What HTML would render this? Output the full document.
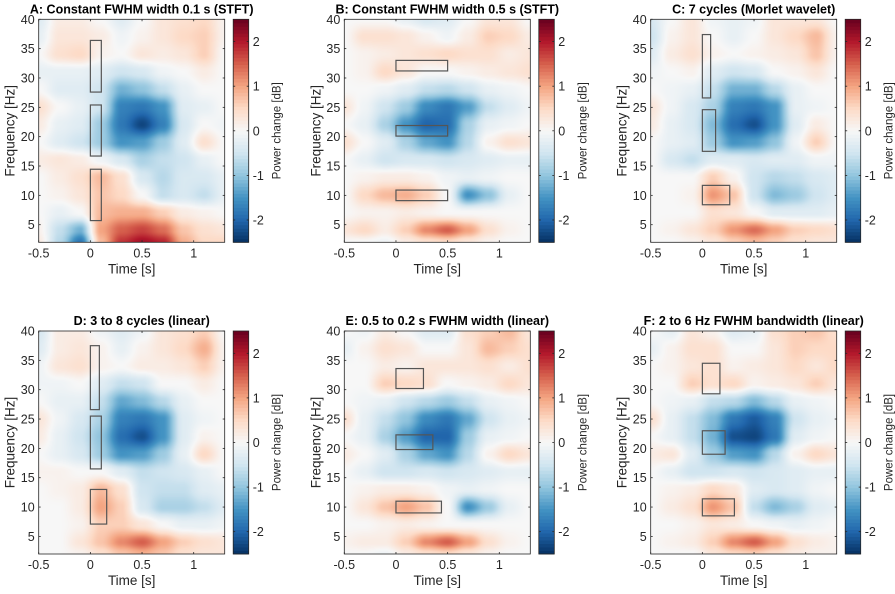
<!DOCTYPE html>
<html><head><meta charset="utf-8">
<style>
html,body{margin:0;padding:0;background:#fff;}
#wrap{position:relative;width:895px;height:594px;overflow:hidden;font-family:"Liberation Sans",sans-serif;}
canvas{position:absolute;}
svg{position:absolute;left:0;top:0;}
</style></head>
<body>
<div id="wrap">
<svg id="svg" width="895" height="594"></svg>
</div>
<script>
// ---- data ----
const times = [-0.5,-0.3,-0.1,0.1,0.3,0.5,0.7,0.9,1.1,1.3];
const freqs = [40,37,34,31,28,25,22,19,16,13,10,7,4,2];
const xTicks = [-0.5,0,0.5,1];
const xTickLabels = ["-0.5","0","0.5","1"];
const yTicks = [5,10,15,20,25,30,35,40];
const cbTicks = [-2,-1,0,1,2];
const titles = ["A: Constant FWHM width 0.1 s (STFT)","B: Constant FWHM width 0.5 s (STFT)","C: 7 cycles (Morlet wavelet)","D: 3 to 8 cycles (linear)","E: 0.5 to 0.2 s FWHM width (linear)","F: 2 to 6 Hz FWHM bandwidth (linear)"];
const powerA = [
[-0.3,0.2,0.2,0.0,-0.3,0.0,0.3,0.4,0.5,0.1],
[-0.2,0.3,0.3,0.2,-0.1,0.1,0.3,0.5,0.6,0.1],
[0.0,0.4,0.5,0.1,0.0,0.3,0.2,0.3,0.6,0.0],
[-0.2,-0.2,-0.2,-0.3,-0.5,-0.4,-0.1,0.0,0.2,0.0],
[0.0,-0.3,-0.3,-0.5,-1.2,-1.0,-0.6,-0.2,0.0,0.0],
[0.4,0.0,-0.2,-0.5,-1.7,-1.8,-1.5,-0.3,-0.2,0.0],
[0.2,-0.2,-0.3,-0.9,-1.8,-2.3,-1.7,-0.4,0.0,-0.1],
[0.0,-0.3,-0.5,-0.9,-1.5,-1.4,-0.9,-0.3,0.4,0.0],
[0.2,0.3,0.2,-0.1,-0.4,-0.8,-0.6,-0.5,-0.2,0.0],
[0.0,0.2,0.4,0.8,0.4,-0.4,-0.7,-0.4,-0.4,-0.2],
[0.0,0.1,0.3,0.7,0.5,0.0,-0.6,-0.4,-0.6,-0.2],
[0.0,-0.2,0.0,0.8,0.9,0.9,0.6,0.2,0.1,0.0],
[0.1,-0.6,-1.2,1.0,1.5,1.7,1.4,0.7,0.4,0.3],
[0.2,-0.7,-1.8,0.8,1.8,2.1,1.9,0.9,0.5,0.5]];
const powerB = [
[0.0,0.0,0.0,-0.2,-0.4,-0.3,0.0,0.3,0.3,0.0],
[0.0,0.4,0.4,0.3,0.1,-0.1,0.2,0.6,0.5,0.2],
[0.0,0.1,0.2,0.3,0.4,0.5,0.4,0.4,0.2,0.3],
[0.0,0.1,0.5,0.3,0.0,0.0,0.1,0.2,0.3,0.4],
[0.0,0.0,-0.1,-0.3,-0.6,-0.7,-0.5,-0.2,-0.1,0.0],
[0.3,-0.1,-0.5,-0.9,-1.6,-1.8,-1.4,-0.6,-0.3,-0.1],
[0.0,-0.2,-0.8,-1.5,-2.0,-1.9,-0.8,-0.2,-0.1,0.0],
[0.4,0.0,-0.3,-0.8,-1.3,-1.5,-0.7,0.1,0.4,0.3],
[0.0,-0.2,-0.5,-0.4,-0.4,-0.5,-0.4,-0.3,-0.2,-0.2],
[0.0,0.1,0.2,0.2,0.1,-0.1,-0.2,-0.1,0.0,0.0],
[0.0,0.5,0.8,0.9,0.6,0.0,-1.5,-1.0,-0.2,0.0],
[0.0,0.1,0.1,0.2,0.1,0.0,0.0,0.0,0.0,0.0],
[0.3,0.5,0.2,0.6,1.2,1.5,1.0,0.4,0.1,0.0],
[0.0,0.0,-0.1,0.2,0.4,0.5,0.3,0.1,0.0,0.0]];
const powerC = [
[-0.4,0.0,0.3,-0.1,-0.2,-0.1,0.3,0.3,0.3,0.0],
[-0.5,0.1,0.3,0.0,-0.2,0.0,0.3,0.5,0.8,0.1],
[-0.3,0.2,0.4,0.1,0.0,0.1,0.2,0.3,0.7,0.1],
[-0.1,0.0,0.1,-0.3,-0.5,-0.4,0.0,0.1,0.3,0.0],
[0.0,-0.1,-0.2,-0.6,-1.2,-1.2,-0.7,-0.2,0.0,0.0],
[0.3,-0.1,-0.4,-0.8,-1.7,-1.8,-1.5,-0.2,-0.1,0.0],
[0.2,-0.2,-0.4,-1.1,-1.9,-2.2,-1.5,-0.3,0.2,0.0],
[0.0,-0.2,-0.3,-0.9,-1.5,-1.4,-1.0,-0.1,0.6,0.0],
[0.0,-0.4,-0.6,-0.3,-0.3,-0.4,-0.3,-0.3,-0.1,-0.1],
[0.0,0.0,0.0,0.6,0.1,-0.5,-0.7,-0.6,-0.4,-0.3],
[0.0,0.0,0.1,1.1,0.7,-0.5,-1.1,-0.9,-0.5,-0.3],
[0.0,0.0,0.0,0.4,0.3,0.0,-0.3,-0.3,-0.3,-0.2],
[0.0,0.1,0.3,0.6,1.1,1.4,1.0,0.6,0.5,0.4],
[0.0,0.0,0.1,0.3,0.6,0.8,0.6,0.4,0.3,0.3]];
const powerD = [
[-0.4,0.2,0.2,-0.1,-0.3,-0.1,0.3,0.4,0.6,0.0],
[-0.3,0.2,0.3,0.1,-0.2,0.1,0.3,0.5,0.9,0.1],
[-0.1,0.3,0.4,0.1,0.0,0.2,0.2,0.3,0.6,0.1],
[-0.1,-0.1,0.0,-0.3,-0.6,-0.5,0.0,0.0,0.2,0.0],
[0.0,-0.2,-0.2,-0.6,-1.3,-1.1,-0.7,-0.2,0.0,0.0],
[0.3,-0.1,-0.4,-0.8,-1.7,-1.8,-1.5,-0.3,-0.1,0.0],
[0.2,-0.2,-0.5,-1.0,-1.9,-2.2,-1.5,-0.3,0.1,0.0],
[0.0,-0.2,-0.4,-0.9,-1.5,-1.4,-0.9,-0.2,0.5,0.0],
[0.1,0.1,0.0,0.0,-0.3,-0.6,-0.5,-0.4,-0.2,0.0],
[0.0,0.1,0.2,0.8,0.4,-0.5,-0.6,-0.6,-0.3,-0.2],
[0.0,0.0,0.2,1.0,0.6,-0.4,-0.8,-0.8,-0.6,-0.3],
[0.0,0.0,0.1,0.6,0.6,0.3,0.0,-0.2,-0.2,-0.1],
[0.0,0.0,0.3,0.7,1.2,1.5,1.0,0.6,0.4,0.3],
[0.0,0.0,0.1,0.4,0.7,0.9,0.7,0.4,0.3,0.3]];
const powerE = [
[0.0,-0.1,0.2,0.0,-0.3,-0.3,0.4,0.6,0.8,0.3],
[-0.2,0.1,0.4,0.3,0.0,0.0,0.3,0.8,0.6,0.4],
[0.0,0.0,0.2,0.1,0.3,0.3,0.3,0.4,0.2,0.4],
[0.0,0.0,0.6,0.5,0.4,0.0,0.1,0.2,0.5,0.3],
[0.0,-0.1,-0.2,-0.5,-0.7,-0.9,-0.6,-0.2,-0.1,0.0],
[0.4,-0.2,-0.6,-1.0,-1.6,-1.8,-1.3,-0.5,-0.2,-0.1],
[0.0,-0.2,-0.8,-1.4,-2.0,-2.0,-0.9,-0.2,-0.1,0.0],
[0.2,0.0,-0.3,-0.8,-1.3,-1.5,-0.7,0.1,0.5,0.3],
[0.0,-0.2,-0.5,-0.5,-0.4,-0.5,-0.4,-0.3,-0.2,-0.2],
[0.0,0.1,0.2,0.2,0.1,-0.1,-0.2,-0.1,0.0,0.0],
[0.0,0.3,0.7,1.0,0.7,0.0,-1.5,-0.9,-0.2,0.0],
[0.0,0.0,0.1,0.2,0.1,0.0,0.0,0.0,0.0,0.0],
[0.1,0.2,0.2,0.6,1.2,1.5,1.0,0.4,0.1,0.0],
[0.0,0.0,-0.1,0.2,0.4,0.5,0.3,0.1,0.0,0.0]];
const powerF = [
[0.0,-0.2,0.3,0.1,-0.3,-0.2,0.4,0.6,0.7,0.4],
[-0.2,0.1,0.4,0.4,0.0,0.0,0.3,0.6,0.5,0.5],
[0.0,0.1,0.3,0.4,0.1,0.2,0.3,0.5,0.3,0.5],
[0.0,0.0,0.6,0.4,0.5,0.1,0.2,0.3,0.6,0.3],
[0.0,-0.1,-0.2,-0.6,-0.7,-1.1,-0.7,-0.2,-0.1,0.0],
[0.4,-0.2,-0.6,-1.1,-1.8,-2.1,-1.7,-0.5,-0.2,-0.1],
[0.0,-0.2,-0.6,-1.2,-2.2,-2.3,-1.8,-0.3,-0.1,0.0],
[0.2,0.3,-0.3,-0.9,-1.4,-1.5,-0.7,0.1,0.5,0.3],
[0.0,-0.2,-0.5,-0.5,-0.4,-0.5,-0.4,-0.3,-0.2,-0.2],
[0.0,0.1,0.2,0.5,0.3,-0.3,-0.4,-0.3,-0.1,0.0],
[0.0,0.2,0.4,1.1,0.7,-0.6,-1.1,-0.8,-0.3,-0.2],
[0.0,0.0,0.1,0.3,0.2,0.0,-0.1,-0.2,-0.1,0.0],
[0.0,0.1,0.2,0.6,1.2,1.5,1.0,0.4,0.2,0.1],
[0.0,0.0,0.0,0.3,0.5,0.6,0.4,0.2,0.1,0.1]];
const boxesA = [[0,0.106,27.6,36.4],[0,0.106,16.7,25.4],[0,0.106,5.7,14.45]];
const boxesB = [[0,0.5,31.2,33],[0,0.5,20.1,21.9],[0,0.5,9.1,10.9]];
const boxesC = [[0,0.08,26.6,37.4],[0,0.128,17.5,24.6],[0,0.265,8.4,11.7]];
const boxesD = [[0,0.087,26.6,37.5],[0,0.106,16.5,25.5],[0,0.158,7.1,13]];
const boxesE = [[0,0.266,30.2,33.6],[0,0.357,19.8,22.3],[0,0.44,9,11]];
const boxesF = [[0,0.17,29.3,34.5],[0,0.22,19,23],[0,0.31,8.5,11.4]];

const panelsPower=[powerA,powerB,powerC,powerD,powerE,powerF];
const panelsBoxes=[boxesA,boxesB,boxesC,boxesD,boxesE,boxesF];
const cmapHex=["#053061","#2166ac","#4393c3","#92c5de","#d1e5f0","#f7f7f7","#fddbc7","#f4a582","#d6604d","#b2182b","#67001f"];
const cmap=cmapHex.map(h=>[parseInt(h.slice(1,3),16),parseInt(h.slice(3,5),16),parseInt(h.slice(5,7),16)]);
const CMIN=-2.5,CMAX=2.5,TMIN=-0.5,TMAX=1.3,FMIN=2,FMAX=40;
function color(v){let u=(v-CMIN)/(CMAX-CMIN);u=Math.max(0,Math.min(1,u))*(cmap.length-1);const i=Math.min(cmap.length-2,Math.floor(u)),w=u-i;return cmap[i].map((c,k)=>Math.round(c+(cmap[i+1][k]-c)*w));}
function sm(w){return w*w*(3-2*w);}
function sample(grid,t,f){
  let i=0;while(i<times.length-2&&t>times[i+1])i++;
  let wt=(t-times[i])/(times[i+1]-times[i]);wt=sm(Math.max(0,Math.min(1,wt)));
  let j=0;while(j<freqs.length-2&&f<freqs[j+1])j++;
  let wf=(freqs[j]-f)/(freqs[j]-freqs[j+1]);wf=sm(Math.max(0,Math.min(1,wf)));
  const a=grid[j][i]*(1-wt)+grid[j][i+1]*wt,b=grid[j+1][i]*(1-wt)+grid[j+1][i+1]*wt;
  return a*(1-wf)+b*wf;
}
const NS="http://www.w3.org/2000/svg";
const svg=document.getElementById('svg');
const wrap=document.getElementById('wrap');
function el(tag,attrs,parent,text){const e=document.createElementNS(NS,tag);for(const k in attrs)e.setAttribute(k,attrs[k]);if(text!==undefined)e.textContent=text;(parent||svg).appendChild(e);return e;}
const colLeft=[38.7,344.3,650.7],rowTop=[19.3,331],PW=186,PH=223;
panelsPower.forEach((grid,p)=>{
  const L=colLeft[p%3],T=rowTop[Math.floor(p/3)];
  const xs=t=>L+(t-TMIN)/(TMAX-TMIN)*PW, ys=f=>T+(FMAX-f)/(FMAX-FMIN)*PH;
  const cv=document.createElement('canvas');cv.width=PW;cv.height=PH;
  cv.style.left=L+'px';cv.style.top=T+'px';
  
  
  wrap.insertBefore(cv,svg);
  const ctx=cv.getContext('2d'),img=ctx.createImageData(PW,PH);
  for(let py=0;py<PH;py++)for(let px=0;px<PW;px++){
    const t=TMIN+(px+0.5)/PW*(TMAX-TMIN),f=FMAX-(py+0.5)/PH*(FMAX-FMIN);
    const c=color(sample(grid,t,f)),o=(py*PW+px)*4;img.data[o]=c[0];img.data[o+1]=c[1];img.data[o+2]=c[2];img.data[o+3]=255;}
  ctx.putImageData(img,0,0);
  const g=el('g',{});
  
  
  panelsBoxes[p].forEach(b=>{
    const r=el('rect',{x:xs(b[0]),y:ys(b[3]),width:xs(b[1])-xs(b[0]),height:ys(b[2])-ys(b[3]),fill:'none',stroke:'#555',"stroke-width":1.2},g);
    
    
  });
  const fr=el('rect',{x:L,y:T,width:PW,height:PH,fill:'none',stroke:'#262626',"stroke-width":0.8},g);
  
  
  xTicks.forEach((v,k)=>{
    const x=xs(v);
    el('line',{x1:x,x2:x,y1:T+PH,y2:T+PH-2,stroke:'#262626','stroke-width':0.8},g);
    el('line',{x1:x,x2:x,y1:T,y2:T+2,stroke:'#262626','stroke-width':0.8},g);
    const tx=el('text',{x:x,y:T+PH+15,'font-size':12.5,'text-anchor':'middle',fill:'#262626'},g,xTickLabels[k]);
    
    
  });
  yTicks.forEach(v=>{
    const y=ys(v);
    el('line',{x1:L,x2:L+2,y1:y,y2:y,stroke:'#262626','stroke-width':0.8},g);
    el('line',{x1:L+PW,x2:L+PW-2,y1:y,y2:y,stroke:'#262626','stroke-width':0.8},g);
    const tx=el('text',{x:L-4,y:y+4.5,'font-size':12.5,'text-anchor':'end',fill:'#262626'},g,String(v));
    
    
  });
  const xl=el('text',{x:L+PW/2,y:T+PH+31,'font-size':13.5,'text-anchor':'middle',fill:'#262626'},g,'Time [s]');
  
  
  const yl=el('text',{x:0,y:0,'font-size':13.5,'text-anchor':'middle',fill:'#262626',transform:`translate(${L-24},${T+PH/2}) rotate(-90)`},g,'Frequency [Hz]');
  
  
  const ti=el('text',{x:L+PW/2+10,y:T-6,'font-size':12.5,'font-weight':'bold','text-anchor':'middle',fill:'#000'},g,titles[p]);
  
  
  const CX=L+PW+8.5,CW=15.5;
  const cb=el('g',{},g);
  
  
  const N=64;
  for(let k=0;k<N;k++){const v=CMIN+(k+0.5)/N*(CMAX-CMIN);const c=color(v);
    el('rect',{x:CX,y:T+PH-(k+1)/N*PH,width:CW,height:PH/N+0.4,fill:`rgb(${c})`},cb);}
  el('rect',{x:CX,y:T,width:CW,height:PH,fill:'none',stroke:'#262626','stroke-width':0.8},cb);
  cbTicks.forEach(v=>{const y=T+(CMAX-v)/(CMAX-CMIN)*PH;
    el('line',{x1:CX+CW,x2:CX+CW-2,y1:y,y2:y,stroke:'#262626','stroke-width':0.8},cb);
    el('line',{x1:CX,x2:CX+2,y1:y,y2:y,stroke:'#262626','stroke-width':0.8},cb);
    const tx=el('text',{x:CX+CW+4,y:y+4.5,'font-size':12.5,fill:'#262626'},cb,String(v));
    
    });
  const cl=el('text',{x:0,y:0,'font-size':11.5,'text-anchor':'middle',fill:'#262626',transform:`translate(${CX+CW+32},${T+PH/2}) rotate(-90)`},cb,'Power change [dB]');
  
  
});
</script>
</body></html>
